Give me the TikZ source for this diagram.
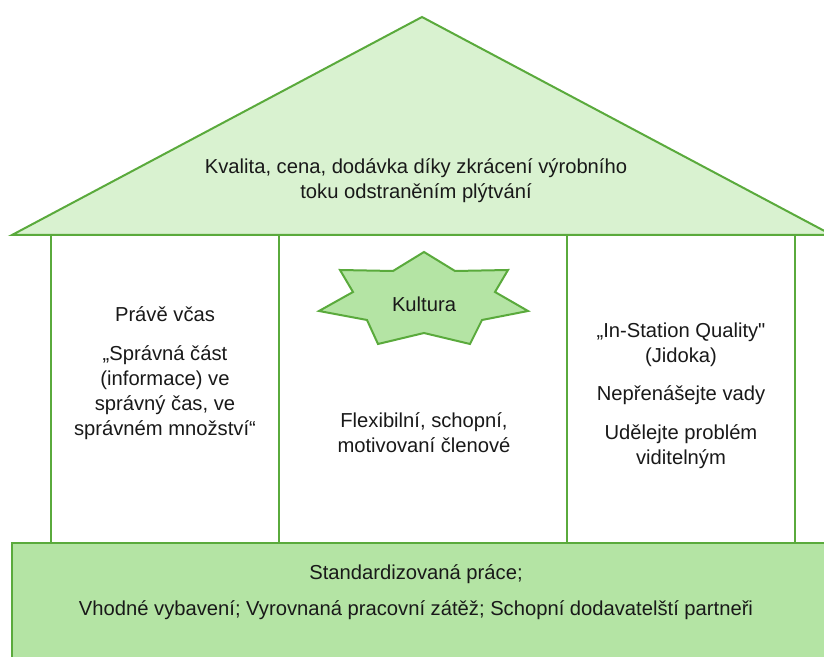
\documentclass[tikz,border=0pt]{standalone}
\usepackage{fontspec}
\setmainfont{Liberation Sans}[Ligatures=TeXOff]
\usetikzlibrary{positioning}
\definecolor{houseline}{RGB}{90,170,60}
\definecolor{rooffill}{RGB}{217,242,208}
\definecolor{basefill}{RGB}{180,228,164}
\tikzset{part/.style = {draw=houseline, line width=1pt, line join=miter}}
\tikzset{txt/.style = {align=center, inner sep=0,
                       font=\fontsize{10.1}{12.5}\selectfont, text=black!90}}
\begin{document}
\begin{tikzpicture}[x=0.5pt, y=-0.5pt]
    \useasboundingbox (0,0) rectangle (824,657);
    \clip (0,0) rectangle (824,657);

    \draw [part, fill=rooffill] (12,235) -- (422,17) -- (832,235) -- cycle;
    \draw [part, fill=white] (51,235) rectangle (279,543);
    \draw [part, fill=white] (279,235) rectangle (567,543);
    \draw [part, fill=white] (567,235) rectangle (795,543);
    \draw [part, fill=basefill] (12,543) rectangle (840,680);

    % seven-pointed star round the culture label
    \draw [part, fill=basefill] (424,252) -- (455,271) -- (508,270) -- (495,292)
        -- (528,311) -- (482,320) -- (470,344) -- (424,333) -- (378,344)
        -- (367,320) -- (319,311) -- (353,292) -- (340,270) -- (393,271) -- cycle;

    \node [txt] (goal) at (416,181) {Kvalita, cena, dodávka díky zkrácení výrobního\\toku odstraněním plýtvání};
    \node [txt] (culture) at (424,304) {Kultura};
    \node [txt] (jit) at (165,373) {Právě včas\\[7pt]„Správná část\\(informace) ve\\správný čas, ve\\správném množství“};
    \node [txt] (people) at (424,433) {Flexibilní, schopní,\\motivovaní členové};
    \node [txt] (jidoka) at (681,396) {„In-Station Quality"\\(Jidoka)\\[6.5pt]Nepřenášejte vady\\[7pt]Udělejte problém\\viditelným};
    \node [txt] (stability) at (416,592) {Standardizovaná práce;\\[5.5pt]Vhodné vybavení; Vyrovnaná pracovní zátěž; Schopní dodavatelští partneři};
\end{tikzpicture}
\end{document}
